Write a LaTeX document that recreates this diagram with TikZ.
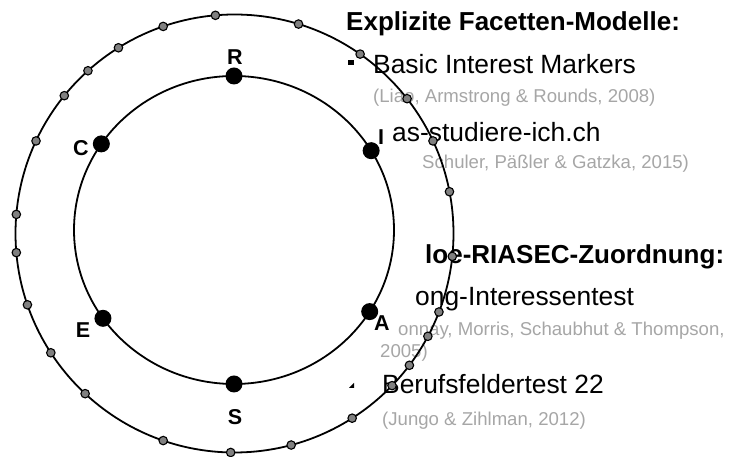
\documentclass[tikz,border=0pt]{standalone}
\usepackage{fontspec}
\setmainfont{Liberation Sans}
\usetikzlibrary{positioning}
\definecolor{citegray}{RGB}{166,166,166}
\definecolor{dotgray}{RGB}{128,128,128}
\tikzstyle{bigdot} = [circle, fill=black, inner sep=0pt, minimum size=17pt]
\tikzstyle{smalldot} = [circle, draw=black, fill=dotgray, line width=1.1pt, inner sep=0pt, minimum size=8.5pt]
\tikzstyle{letter} = [inner sep=0pt, font=\fontsize{21.5}{24}\selectfont\bfseries]
\tikzstyle{heading} = [anchor=base west, inner sep=0pt, font=\fontsize{26}{30}\selectfont\bfseries]
\tikzstyle{entry} = [anchor=base west, inner sep=0pt, font=\fontsize{26.4}{30}\selectfont]
\tikzstyle{source} = [anchor=base west, inner sep=0pt, text=citegray, font=\fontsize{18.6}{22}\selectfont]
\tikzset{
	RING/.style={line width=1.8pt}
}

\begin{document}
\begin{tikzpicture}[x=1pt, y=1pt]
	\useasboundingbox (0,0) rectangle (732,457);
	% list on the right
	\node (head1) [heading] at (346,426) {Explizite Facetten-Modelle:};
	\node (basic) [entry] at (373,383) {Basic Interest Markers};
	\node (liao) [source] at (373,354) {(Liao, Armstrong \& Rounds, 2008)};
	\node (was) [entry] at (392,315) {as-studiere-ich.ch};
	\node (schuler) [source] at (422,288) {Schuler, Päßler \& Gatzka, 2015)};
	\node (head2) [heading] at (425,193) {loe-RIASEC-Zuordnung:};
	\node (strong) [entry] at (415,151) {ong-Interessentest};
	\node (donnay) [source] at (398,121) {onnay, Morris, Schaubhut \& Thompson,};
	\node (year) [source] at (380,99) {2005)};
	\node (beruf) [entry] at (382,63) {Berufsfeldertest 22};
	\node (jungo) [source] at (382,31) {(Jungo \& Zihlman, 2012)};
	\fill (348.3,391.5) rectangle (353.8,397);
	\fill (349,69) -- (354,69) -- (354,74) -- cycle;
	% rings
	\coordinate (oc) at (234.5,223.5);
	\coordinate (ic) at (234,227);
	\draw [RING] (oc) circle [radius=219];
	\draw [RING] (ic) ellipse [x radius=160, y radius=154];
	\foreach \a in {95,73,55,38,25,11,-6,-21,-28,-37,-44,-57.5,-75,-91,-109,-133,-147,-161,-175,175,155,141,132,122,109}
		\node [smalldot] at ([shift={(\a:219)}]oc) {};
	\foreach \n/\a in {R/90, I/31, A/-32, S/-90, E/-145, C/146}
		\node (dot\n) [bigdot] at ([shift={({160*cos(\a)},{154*sin(\a)})}]ic) {};
	\node (labR) [letter] at (235,400) {R};
	\node (labI) [letter] at (381,320) {I};
	\node (labA) [letter] at (382,134) {A};
	\node (labS) [letter] at (235,40) {S};
	\node (labE) [letter] at (83,127) {E};
	\node (labC) [letter] at (81,309) {C};
\end{tikzpicture}
\end{document}
